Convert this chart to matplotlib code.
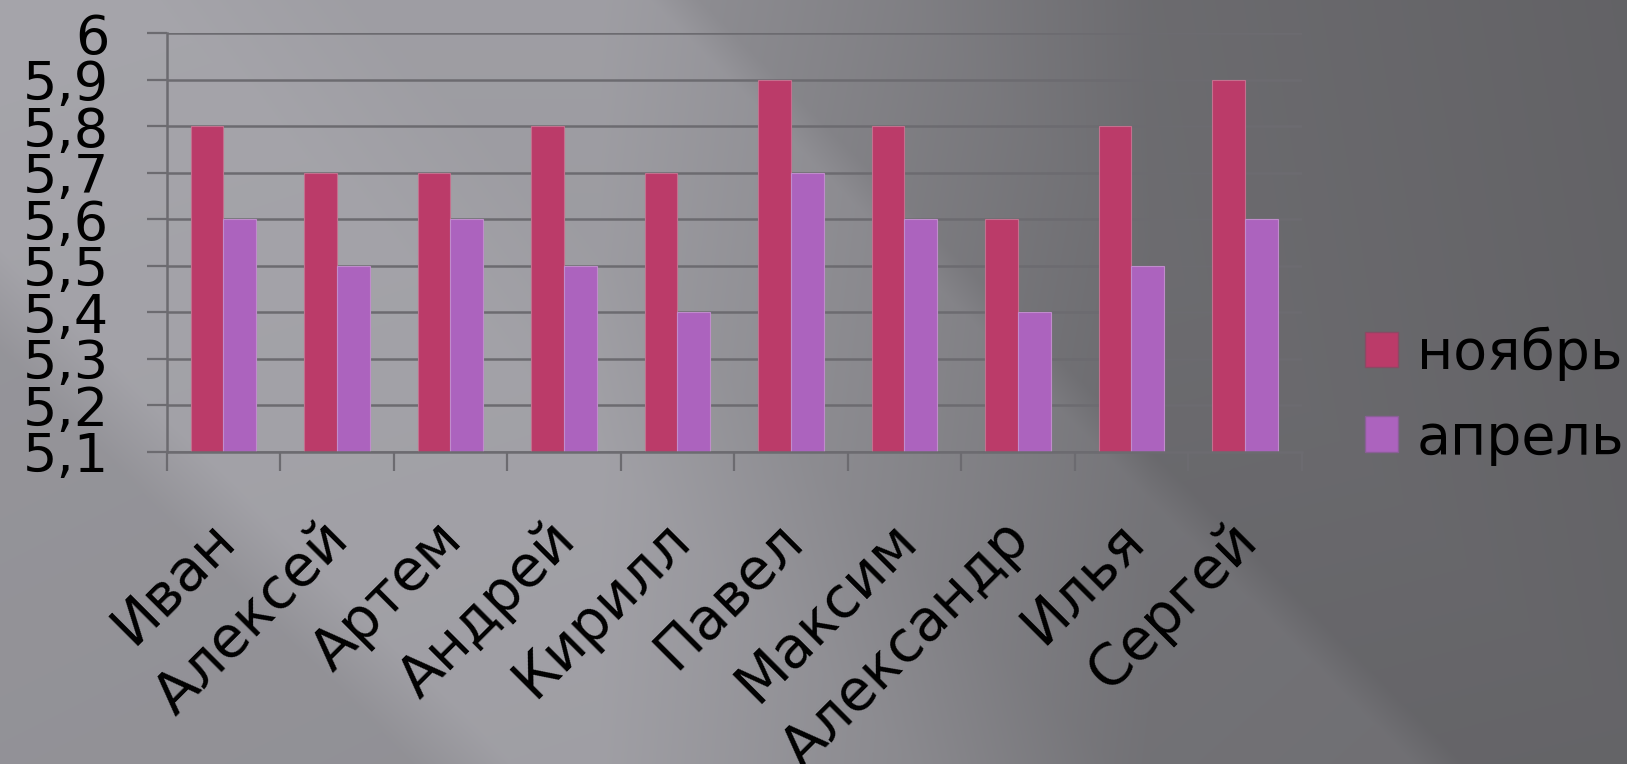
import numpy as np
import matplotlib
matplotlib.use("Agg")
import matplotlib.pyplot as plt
from matplotlib.patches import Patch

# scores per pupil, two months
names = ["Иван", "Алексей", "Артем", "Андрей", "Кирилл",
         "Павел", "Максим", "Александр", "Илья", "Сергей"]
november = [5.8, 5.7, 5.7, 5.8, 5.7, 5.9, 5.8, 5.6, 5.8, 5.9]
april = [5.6, 5.5, 5.6, 5.5, 5.4, 5.7, 5.6, 5.4, 5.5, 5.6]
series_names = ["ноябрь", "апрель"]

y_ticks = [5.1, 5.2, 5.3, 5.4, 5.5, 5.6, 5.7, 5.8, 5.9, 6.0]
y_labels = ["5,1", "5,2", "5,3", "5,4", "5,5", "5,6", "5,7", "5,8", "5,9", "6"]

W, H = 1627, 764
plt.rcParams['font.family'] = ['DejaVu Sans']

fig = plt.figure(figsize=(W / 100, H / 100), dpi=100)

# slide-like gray background with diagonal sheen
xx, yy = np.meshgrid(np.arange(W), np.arange(H))
c = xx - yy
base = np.interp(xx, [0, 600, 900, 1150, W], [0.62, 0.60, 0.51, 0.43, 0.40])
sheen = np.interp(c, [-800, -350, -250, 150, 350, 650, 700, 900, 1700],
                  [-0.04, -0.03, 0.03, 0.04, 0.02, 0.03, -0.01, 0.0, -0.01])
light = np.clip(base + sheen, 0, 1)
bg = np.dstack([light * 0.99, light * 0.985, light * 1.02])
bg_ax = fig.add_axes([0, 0, 1, 1], zorder=-1)
bg_ax.imshow(np.clip(bg, 0, 1), aspect='auto', extent=[0, 1, 0, 1])
bg_ax.axis('off')

left, right = 166.7 / W, 1301.7 / W
bottom, top = 1 - 451.7 / H, 1 - 33.3 / H
ax = fig.add_axes([left, bottom, right - left, top - bottom])
ax.patch.set_alpha(0)

x = np.arange(len(names))
w = 0.288
ax.bar(x - w / 2, november, w, color='#bb3b69', edgecolor='#c4708e', linewidth=0.8)
ax.bar(x + w / 2, april, w, color='#ac63be', edgecolor='#c08ccc', linewidth=0.8)

grid_col = '#6c6b70'
ax.set_ylim(5.1, 6.0)
ax.set_xlim(-0.5, len(names) - 0.5)
ax.set_axisbelow(True)
ax.yaxis.grid(True, color=grid_col, linewidth=1.8)

ax.set_yticks(y_ticks)
ax.set_yticklabels(y_labels, fontsize=39)
ax.tick_params(axis='y', length=14.4, width=1.6, color=grid_col, pad=27)

ax.set_xticks(np.arange(-0.5, len(names), 1.0))
ax.set_xticklabels([])
ax.tick_params(axis='x', which='major', length=13.7, width=1.6, color=grid_col)
ax.set_xticks(x + 0.03, minor=True)
ax.set_xticklabels(names, minor=True, fontsize=41, rotation=45,
                   ha='right', va='center', rotation_mode='anchor')
ax.tick_params(axis='x', which='minor', length=0, pad=57)

for side in ['top', 'right']:
    ax.spines[side].set_visible(False)
for side in ['left', 'bottom']:
    ax.spines[side].set_color(grid_col)
    ax.spines[side].set_linewidth(1.8)

handles = [Patch(facecolor='#bb3b69', edgecolor='#8a4a64'),
           Patch(facecolor='#ac63be', edgecolor='#8a5f96')]
ax.legend(handles, series_names, loc='center left',
          bbox_to_anchor=(1365 / W, 1 - 396 / H), bbox_transform=fig.transFigure,
          frameon=False, fontsize=40, handlelength=0.6, handleheight=0.6,
          handletextpad=0.33, labelspacing=0.55, borderpad=0, borderaxespad=0)

fig.savefig("out.png", dpi=100)
